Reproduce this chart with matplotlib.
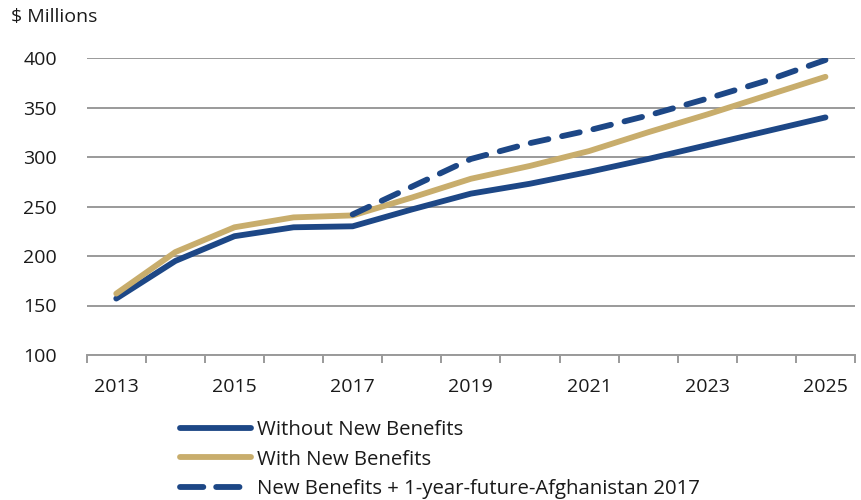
import matplotlib
matplotlib.use("Agg")
import matplotlib.pyplot as plt
from matplotlib.lines import Line2D

plt.rcParams['font.family'] = ['Open Sans', 'DejaVu Sans']

years = list(range(2013, 2026))
without_new = [157, 195, 220, 229, 230, 247, 263, 273, 285, 298, 312, 326, 340]
with_new = [162, 204, 229, 239, 241, 259, 278, 291, 306, 325, 343, 362, 381]
dash_years = list(range(2017, 2026))
afghan = [242, 270, 298, 314, 327, 342, 359, 377, 398]
xtick_labels = ['2013', '2015', '2017', '2019', '2021', '2023', '2025']
yticks = [100, 150, 200, 250, 300, 350, 400]

blue = '#1d4786'
gold = '#c8ad6c'
grid = '#9a9a9a'
txt = '#1a1a1a'

fig = plt.figure(figsize=(8.62, 5.0), dpi=100)
ax = fig.add_axes([0.1006, 0.29, 0.8913, 0.594])

lw = 4.2
dash = (3.1, 2.4)
ax.plot(years, without_new, color=blue, lw=lw, solid_capstyle='round', solid_joinstyle='round', zorder=3)
ax.plot(years, with_new, color=gold, lw=lw, solid_capstyle='round', solid_joinstyle='round', zorder=3)
ax.plot(dash_years, afghan, color=blue, lw=lw, dashes=dash, dash_capstyle='round', zorder=4)

ax.set_xlim(2012.5, 2025.5)
ax.set_ylim(100, 400)
ax.set_yticks(yticks)
ax.set_yticklabels([str(v) for v in yticks])
ax.yaxis.grid(True, color=grid, lw=1.4)
ax.set_axisbelow(True)
ax.tick_params(axis='y', length=0, pad=21.5, labelsize=14, colors=txt)

ax.set_xticks([int(t) for t in xtick_labels])
ax.set_xticklabels(xtick_labels)
ax.set_xticks([2012.5 + k for k in range(14)], minor=True)
ax.tick_params(axis='x', which='major', length=0, pad=16.5, labelsize=14, colors=txt)
ax.tick_params(axis='x', which='minor', length=6, width=1.4, color=grid, direction='out')

for s in ['top', 'right', 'left']:
    ax.spines[s].set_visible(False)
ax.spines['bottom'].set_color(grid)
ax.spines['bottom'].set_linewidth(1.4)

fig.text(0.013, 0.966, '$ Millions', fontsize=14, ha='left', va='center', color=txt)

handles = [
    Line2D([], [], color=blue, lw=lw, solid_capstyle='round'),
    Line2D([], [], color=gold, lw=lw, solid_capstyle='round'),
    Line2D([], [], color=blue, lw=lw, dashes=(4.0, 2.2), dash_capstyle='round'),
]
labels = ['Without New Benefits', 'With New Benefits', 'New Benefits + 1-year-future-Afghanistan 2017']
fig.legend(handles, labels, loc='upper left', bbox_to_anchor=(0.209, 0.16),
           bbox_transform=fig.transFigure, frameon=False, fontsize=14.7,
           handlelength=3.45, handletextpad=0.3, labelspacing=0.47, borderaxespad=0,
           borderpad=0, labelcolor=txt)

fig.savefig('out.png', dpi=100)
